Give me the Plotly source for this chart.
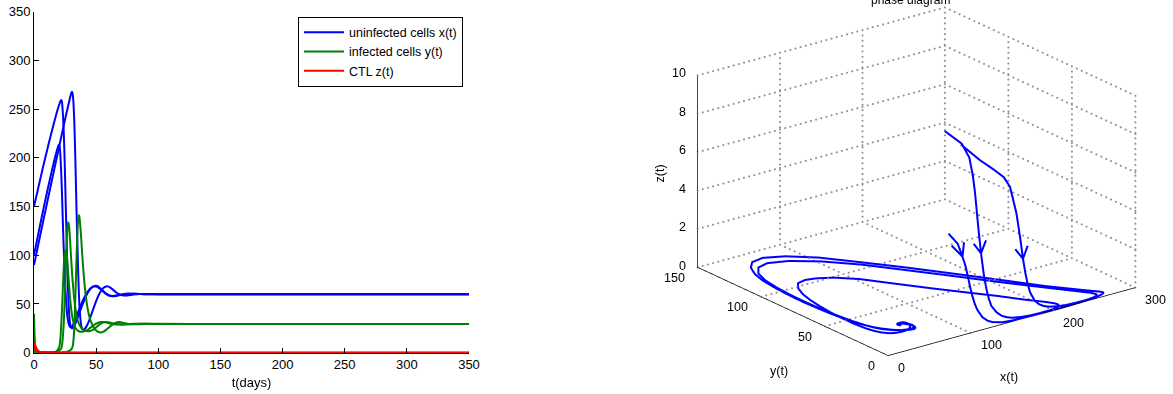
import plotly.graph_objects as go

# ---------------- data ----------------
# trajectory A  (x0 = 150)
tA = [0, 0.25, 0.5, 0.75, 1, 1.5, 2, 2.5, 3, 3.5,
      4, 5, 6, 7, 8, 10, 12, 14, 16, 17,
      18, 19, 20, 20.5, 21, 21.5, 22, 22.5, 23, 23.5,
      24, 24.5, 25, 25.5, 26, 26.5, 27, 27.5, 28, 28.5,
      29, 29.5, 30, 30.5, 31, 32, 33, 34, 35, 36,
      38, 40, 42, 44, 46, 48, 50, 52, 54, 56,
      58, 60, 63, 66, 70, 75, 80, 90, 100, 150,
      250, 350]
xA = [150, 151.4, 152.8, 154.2, 155.6, 158.4, 161.2, 164.0, 166.8, 169.6,
      172.4, 178.0, 183.5, 189.0, 194.4, 205.0, 215.4, 225.6, 235.5, 240.3,
      245.0, 249.5, 253.5, 255.4, 257.2, 258.6, 259.4, 257.5, 250.0, 239.0,
      224.0, 204.0, 180.0, 154.0, 129.0, 104.0, 80.0, 60.0, 46.0, 36.0,
      30.0, 27.0, 25.5, 25.0, 25.3, 26.8, 29.2, 32.2, 35.5, 39.0,
      46.0, 52.5, 58.3, 63.0, 66.4, 68.3, 68.7, 67.7, 65.5, 63.0,
      60.6, 59.0, 58.0, 58.3, 59.4, 60.4, 60.5, 60.1, 60.0, 60.0,
      60.0, 60.0]
yA = [40, 26, 16, 9, 5, 1.8, 0.6, 0.25, 0.12, 0.07,
      0.05, 0.05, 0.06, 0.08, 0.1, 0.16, 0.25, 0.4, 0.65, 0.85,
      1.1, 1.5, 2.1, 2.5, 3.0, 3.6, 4.5, 7.5, 13, 21,
      32, 47, 66, 86, 105, 120, 130, 134, 132, 125.5,
      116, 105, 94, 84, 75, 60, 48.5, 40, 34, 30,
      25.5, 23.2, 22.2, 22.0, 22.6, 24.0, 26.0, 28.3, 30.2, 31.3,
      31.6, 31.2, 30.3, 29.4, 28.9, 29.1, 29.5, 29.6, 29.5, 29.5,
      29.5, 29.5]
zA = [8.0, 7.6, 7.4, 7.2, 6.8, 5.5, 4.2, 3.1, 2.3, 1.7,
      1.25, 0.75, 0.5, 0.35, 0.25, 0.14, 0.08, 0.05, 0.03, 0.02,
      0.015, 0.01, 0, 0, 0, 0, 0, 0, 0, 0,
      0, 0, 0, 0, 0, 0, 0, 0, 0, 0,
      0, 0, 0, 0, 0, 0, 0, 0, 0, 0,
      0, 0, 0, 0, 0, 0, 0, 0, 0, 0,
      0, 0, 0, 0, 0, 0, 0, 0, 0, 0,
      0, 0]

# trajectory B  (x0 = 100)
tB = [0, 0.25, 0.5, 0.75, 1, 1.5, 2, 2.5, 3, 3.5,
      4, 5, 6, 7, 8, 10, 12, 14, 16, 17,
      18, 19, 19.5, 20, 20.5, 21, 21.5, 22, 22.5, 23,
      23.5, 24, 24.5, 25, 25.5, 26, 26.5, 27, 27.5, 28,
      28.5, 29, 30, 31, 32, 33, 34, 35, 36, 38,
      40, 42, 44, 46, 48, 50, 52, 54, 56, 58,
      60, 63, 66, 70, 75, 80, 90, 100, 150, 250,
      350]
xB = [100, 101.6, 103.2, 104.8, 106.4, 109.6, 112.8, 116.0, 119.1, 122.3,
      125.4, 131.6, 137.8, 143.9, 150.0, 161.9, 173.5, 184.8, 195.7, 200.8,
      205.6, 210.0, 212.2, 213.5, 212.6, 207.5, 196.0, 182.0, 164.0, 143.0,
      123.0, 104.0, 87.0, 72.0, 61.0, 50.0, 42.0, 36.0, 32.0, 29.3,
      27.5, 26.5, 26.4, 27.8, 30.2, 33.2, 36.5, 40.0, 43.4, 49.8,
      55.5, 60.3, 64.0, 66.5, 67.8, 67.8, 66.6, 64.6, 62.3, 60.3,
      59.0, 58.3, 58.6, 59.6, 60.4, 60.4, 60.1, 60.0, 60.0, 60.0,
      60.0]
yB = [20.4, 8, 3, 1.3, 0.6, 0.15, 0.05, 0.03, 0.02, 0.017,
      0.015, 0.015, 0.017, 0.022, 0.03, 0.06, 0.12, 0.25, 0.55, 0.9,
      1.5, 2.6, 3.5, 5.0, 7.0, 11.5, 19.5, 31, 44, 59.5,
      75, 90, 99, 103.5, 105, 103.5, 98, 90.5, 82, 73,
      64.5, 56.5, 44, 35.5, 30, 26.5, 24.2, 22.8, 22.0, 21.4,
      21.7, 22.6, 24.2, 26.2, 28.1, 29.8, 31.0, 31.6, 31.5, 31.0,
      30.3, 29.4, 28.9, 28.9, 29.3, 29.6, 29.6, 29.5, 29.5, 29.5,
      29.5]
zB = [9.9, 9.6, 9.0, 8.1, 7.2, 5.4, 4.0, 2.9, 2.1, 1.5,
      1.1, 0.7, 0.45, 0.3, 0.2, 0.1, 0.05, 0.03, 0.02, 0.01,
      0, 0, 0, 0, 0, 0, 0, 0, 0, 0,
      0, 0, 0, 0, 0, 0, 0, 0, 0, 0,
      0, 0, 0, 0, 0, 0, 0, 0, 0, 0,
      0, 0, 0, 0, 0, 0, 0, 0, 0, 0,
      0, 0, 0, 0, 0, 0, 0, 0, 0, 0,
      0]

# trajectory C  (x0 = 90)
tC = [0, 0.25, 0.5, 0.75, 1, 1.5, 2, 2.5, 3, 4,
      5, 6, 8, 10, 12, 14, 16, 18, 20, 22,
      24, 26, 27, 28, 28.5, 29, 29.5, 30, 30.5, 31,
      31.5, 32, 32.5, 33, 33.5, 34, 34.5, 35, 35.5, 36,
      36.5, 37, 37.5, 38, 38.5, 39, 39.5, 40, 41, 42,
      43, 44, 45, 46, 48, 50, 52, 54, 56, 58,
      60, 62, 64, 66, 68, 70, 72, 75, 80, 85,
      90, 95, 100, 150, 250, 350]
xC = [90, 91.5, 93.0, 94.5, 96.1, 99.1, 102.2, 105.2, 108.3, 114.4,
      120.5, 126.6, 138.6, 150.6, 162.6, 174.5, 186.4, 198.3, 210.1, 221.9,
      233.7, 245.2, 250.7, 256.2, 258.9, 261.6, 264.2, 266.4, 267.8, 266.5,
      261.0, 250.0, 234.0, 212.0, 186.0, 158.0, 132.0, 108.0, 85.0, 65.0,
      50.0, 40.0, 32.5, 28.0, 25.5, 24.2, 23.6, 23.5, 24.6, 26.5,
      29.0, 32.0, 35.3, 38.8, 46.0, 53.0, 59.0, 63.6, 66.6, 68.0,
      67.8, 66.3, 64.2, 62.0, 60.3, 59.2, 58.7, 58.8, 59.6, 60.2,
      60.3, 60.2, 60.1, 60.0, 60.0, 60.0]
yC = [10.8, 4.5, 1.8, 0.7, 0.3, 0.06, 0.02, 0.012, 0.008, 0.006,
      0.006, 0.006, 0.007, 0.01, 0.016, 0.027, 0.045, 0.08, 0.14, 0.25,
      0.46, 0.85, 1.2, 1.7, 2.0, 2.4, 2.9, 3.5, 4.3, 6.0,
      9.5, 17, 28, 46, 67, 89, 108, 125, 136, 141,
      139.5, 134, 126, 117, 107, 97, 88, 80, 66, 55,
      46.5, 40, 35, 31.3, 26.0, 22.8, 21.2, 20.8, 21.6, 23.4,
      25.6, 27.8, 29.6, 30.8, 31.4, 31.2, 30.6, 29.8, 29.1, 29.2,
      29.5, 29.6, 29.6, 29.5, 29.5, 29.5]
zC = [4.96, 4.6, 4.0, 3.6, 3.2, 2.5, 1.9, 1.45, 1.1, 0.65,
      0.4, 0.25, 0.1, 0.05, 0.03, 0.02, 0.01, 0, 0, 0,
      0, 0, 0, 0, 0, 0, 0, 0, 0, 0,
      0, 0, 0, 0, 0, 0, 0, 0, 0, 0,
      0, 0, 0, 0, 0, 0, 0, 0, 0, 0,
      0, 0, 0, 0, 0, 0, 0, 0, 0, 0,
      0, 0, 0, 0, 0, 0, 0, 0, 0, 0,
      0, 0, 0, 0, 0, 0]

# axis ticks
t_ticks = [0, 50, 100, 150, 200, 250, 300, 350]
v_ticks = [0, 50, 100, 150, 200, 250, 300, 350]
x3_ticks = [0, 100, 200, 300]
y3_ticks = [0, 50, 100, 150]
z3_ticks = [0, 2, 4, 6, 8, 10]

series_names = ["uninfected cells x(t)", "infected cells y(t)", "CTL z(t)"]

for tt, a, b, c in [(tA, xA, yA, zA), (tB, xB, yB, zB), (tC, xC, yC, zC)]:
    assert len(tt) == len(a) == len(b) == len(c), (len(tt), len(a), len(b), len(c))

# ---------------- style ----------------
BLUE = "#0000ff"
GREEN = "#008000"
RED = "#ff0000"
FONT = "Liberation Sans, Arial, sans-serif"
GRID = "#909090"

fig = go.Figure()

# ---------------- left: time series ----------------
trajs = [(tA, xA, yA, zA), (tB, xB, yB, zB), (tC, xC, yC, zC)]
for k, (col, idx) in enumerate([(BLUE, 1), (GREEN, 2), (RED, 3)]):
    for j, tr in enumerate(trajs):
        fig.add_trace(go.Scatter(
            x=tr[0], y=tr[idx], mode="lines",
            line=dict(color=col, width=2, shape="spline", smoothing=0.6),
            name=series_names[k],
            showlegend=(j == 0), hoverinfo="skip"))

# ---------------- right: 3-D phase diagram ----------------
XR, YR, ZR = [0, 300], [0, 150], [0, 10]


def seg_trace(segs, color, width):
    xs, ys, zs = [], [], []
    for (p, q) in segs:
        xs += [p[0], q[0], None]
        ys += [p[1], q[1], None]
        zs += [p[2], q[2], None]
    return go.Scatter3d(x=xs, y=ys, z=zs, mode="lines", connectgaps=False,
                        line=dict(color=color, width=width),
                        showlegend=False, hoverinfo="skip")


def dotted_trace(segs, color, counts):
    # MATLAB-style dotted grid: small dots spaced evenly along each grid line
    xs, ys, zs = [], [], []
    for (p, q), n in zip(segs, counts):
        for k in range(n + 1):
            f = k / n
            xs.append(p[0] + f * (q[0] - p[0]))
            ys.append(p[1] + f * (q[1] - p[1]))
            zs.append(p[2] + f * (q[2] - p[2]))
    return go.Scatter3d(x=xs, y=ys, z=zs, mode="markers",
                        marker=dict(color=color, size=1.2, line=dict(width=0)),
                        showlegend=False, hoverinfo="skip")


NX, NY, NZ = 48, 39, 36   # dots per grid line along x, y and z
grid, counts = [], []
for xv in x3_ticks[1:]:
    grid.append(((xv, YR[0], 0), (xv, YR[1], 0))); counts.append(NY)
    grid.append(((xv, YR[1], ZR[0]), (xv, YR[1], ZR[1]))); counts.append(NZ)
for yv in y3_ticks[1:]:
    grid.append(((XR[0], yv, 0), (XR[1], yv, 0))); counts.append(NX)
for yv in y3_ticks[:-1]:
    grid.append(((XR[1], yv, ZR[0]), (XR[1], yv, ZR[1]))); counts.append(NZ)
for zv in z3_ticks[1:]:
    grid.append(((XR[0], YR[1], zv), (XR[1], YR[1], zv))); counts.append(NX)
    grid.append(((XR[1], YR[0], zv), (XR[1], YR[1], zv))); counts.append(NY)
fig.add_trace(dotted_trace(grid, GRID, counts))

axes = [((XR[0], YR[0], 0), (XR[1], YR[0], 0)),
        ((XR[0], YR[0], 0), (XR[0], YR[1], 0)),
        ((XR[0], YR[1], ZR[0]), (XR[0], YR[1], ZR[1]))]
tk = []
for xv in x3_ticks:
    tk.append(((xv, 0, 0), (xv, -3.6, 0)))
for yv in y3_ticks:
    tk.append(((0, yv, 0), (-6, yv, 0)))
for zv in z3_ticks:
    tk.append(((0, YR[1], zv), (0, YR[1] + 3.6, zv)))
fig.add_trace(seg_trace(axes + tk, "#000000", 1.5))

for (tt, a, b, c) in trajs:
    fig.add_trace(go.Scatter3d(x=a, y=b, z=c, mode="lines",
                               line=dict(color=BLUE, width=4),
                               showlegend=False, hoverinfo="skip"))


def arrow_head(a, b, c, i, zlen=0.6, half=7.5):
    dx, dy, dz = a[i] - a[i - 1], b[i] - b[i - 1], c[i] - c[i - 1]
    s = zlen / abs(dz)
    bx, by, bz = a[i] - s * dx, b[i] - s * dy, c[i] - s * dz
    return [bx - half, a[i], bx + half], [by, b[i], by], [bz, c[i], bz]


for (tt, a, b, c), i in zip(trajs, [7, 6, 2]):
    ax_, ay_, az_ = arrow_head(a, b, c, i)
    fig.add_trace(go.Scatter3d(x=ax_, y=ay_, z=az_, mode="lines",
                               line=dict(color=BLUE, width=4),
                               showlegend=False, hoverinfo="skip"))

tick_font = dict(family=FONT, size=12.5, color="#000000")
ann3 = []
for zv in z3_ticks:
    ann3.append(dict(x=0, y=YR[1], z=zv, text=str(zv), showarrow=False,
                     xanchor="right", yanchor="middle", xshift=-10, yshift=2,
                     font=tick_font))
for yv in y3_ticks:
    ann3.append(dict(x=0, y=yv, z=0, text=str(yv), showarrow=False,
                     xanchor="right", yanchor="middle", xshift=-11, yshift=-10,
                     font=tick_font))
for xv in x3_ticks:
    ann3.append(dict(x=xv, y=0, z=0, text=str(xv), showarrow=False,
                     xanchor="left", yanchor="middle", xshift=8, yshift=-12,
                     font=tick_font))
ann3.append(dict(x=sum(XR) / 2, y=0, z=0, text="x(t)", showarrow=False,
                 xanchor="center", yanchor="middle", xshift=-3, yshift=-55,
                 font=tick_font))
ann3.append(dict(x=0, y=sum(YR) / 2, z=0, text="y(t)", showarrow=False,
                 xanchor="center", yanchor="middle", xshift=-14, yshift=-59,
                 font=tick_font))
ann3.append(dict(x=0, y=YR[1], z=sum(ZR) / 2, text="z(t)", showarrow=False,
                 xanchor="center", yanchor="middle", xshift=-38, yshift=-2,
                 textangle=-90, font=tick_font))

hidden = dict(visible=False, showgrid=False, zeroline=False, showline=False,
              showticklabels=False, showbackground=False, showspikes=False)

fig.update_layout(
    width=1173, height=394, autosize=False,
    margin=dict(l=0, r=0, t=0, b=0, autoexpand=False),
    paper_bgcolor="white", plot_bgcolor="white",
    font=dict(family=FONT, size=13, color="#000000"),
    xaxis=dict(domain=[34 / 1173, 469 / 1173], range=[0, 350], automargin=False,
               tickvals=t_ticks, ticks="inside", ticklen=5, tickcolor="#000",
               showline=True, linecolor="#000", linewidth=1,
               showgrid=False, zeroline=False,
               tickfont=dict(family=FONT, size=13, color="#000"),
               title=dict(text="t(days)", font=dict(family=FONT, size=13), standoff=6)),
    yaxis=dict(domain=[1 - 352.7 / 394, 1 - 11.7 / 394], range=[0, 350], automargin=False,
               tickvals=v_ticks, ticks="inside", ticklen=5, tickcolor="#000",
               showline=True, linecolor="#000", linewidth=1,
               showgrid=False, zeroline=False,
               tickfont=dict(family=FONT, size=13, color="#000")),
    legend=dict(x=463 / 1173, y=1 - 16.7 / 394, xanchor="right", yanchor="top",
                bgcolor="white", bordercolor="#000", borderwidth=1,
                tracegroupgap=0, itemwidth=40,
                font=dict(family=FONT, size=12.5, color="#000")),
    scene=dict(
        domain=dict(x=[0.5629, 1.0], y=[0.0776, 1.0]),
        xaxis=dict(range=XR, **hidden),
        yaxis=dict(range=YR, **hidden),
        zaxis=dict(range=ZR, **hidden),
        aspectmode="manual", aspectratio=dict(x=1.72, y=1.72, z=1.132),
        camera=dict(eye=dict(x=-0.570, y=-0.740, z=0.357),
                    center=dict(x=0, y=0, z=0), up=dict(x=0, y=0, z=1),
                    projection=dict(type="orthographic")),
        bgcolor="white",
        annotations=ann3),
    annotations=[dict(xref="paper", yref="paper", x=910 / 1173, y=1.0,
                      xanchor="center", yanchor="middle", text="phase diagram",
                      showarrow=False, font=dict(family=FONT, size=12, color="#000"))],
    showlegend=True,
)

fig.write_html("out.html", config={"displayModeBar": False})
